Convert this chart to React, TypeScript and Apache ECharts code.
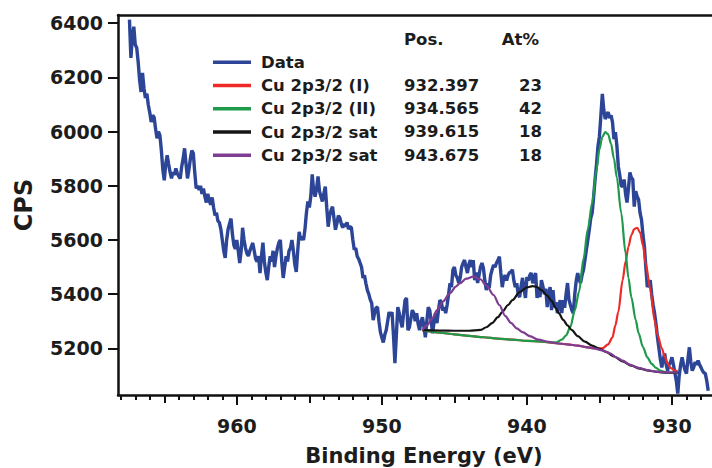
import React, { useEffect, useRef } from 'react';
import * as echarts from 'echarts';

// Measured spectrum: [binding energy (eV), CPS]
const spectrum: [number, number][] = [
  [967.4, 6413], [967.3, 6272], [967.2, 6350], [967.1, 6387], [967.0, 6320], [966.9, 6309], [966.8, 6257], [966.7, 6190], [966.6, 6146], [966.5, 6216],
  [966.4, 6160], [966.3, 6124], [966.2, 6140], [966.1, 6098], [966.0, 6070], [965.9, 6035], [965.8, 6060], [965.7, 6053], [965.6, 6010], [965.5, 5975],
  [965.4, 6000], [965.3, 5986], [965.2, 5930], [965.1, 5860], [965.0, 5820], [964.9, 5880], [964.8, 5912], [964.7, 5880], [964.6, 5850], [964.5, 5827],
  [964.4, 5850], [964.3, 5840], [964.2, 5864], [964.1, 5845], [964.0, 5835], [963.9, 5827], [963.8, 5870], [963.7, 5900], [963.6, 5938], [963.5, 5880],
  [963.4, 5827], [963.3, 5860], [963.2, 5900], [963.1, 5930], [963.0, 5920], [962.9, 5850], [962.8, 5790], [962.7, 5800], [962.6, 5785], [962.5, 5800],
  [962.4, 5770], [962.3, 5790], [962.2, 5760], [962.1, 5738], [962.0, 5770], [961.9, 5745], [961.8, 5730], [961.7, 5757], [961.6, 5720], [961.5, 5690],
  [961.4, 5700], [961.3, 5670], [961.2, 5664], [961.1, 5640], [961.0, 5600], [960.9, 5560], [960.8, 5534], [960.7, 5600], [960.6, 5640], [960.5, 5660],
  [960.4, 5679], [960.3, 5620], [960.2, 5580], [960.1, 5567], [960.0, 5600], [959.9, 5560], [959.8, 5515], [959.7, 5560], [959.6, 5645], [959.5, 5600],
  [959.4, 5570], [959.3, 5550], [959.2, 5541], [959.1, 5560], [959.0, 5575], [958.9, 5589], [958.8, 5560], [958.7, 5530], [958.6, 5520], [958.5, 5540],
  [958.4, 5478], [958.3, 5540], [958.2, 5590], [958.1, 5520], [958.0, 5480], [957.9, 5452], [957.8, 5500], [957.7, 5540], [957.6, 5520], [957.5, 5560],
  [957.4, 5500], [957.3, 5540], [957.2, 5570], [957.1, 5590], [957.0, 5600], [956.9, 5520], [956.8, 5460], [956.7, 5500], [956.6, 5540], [956.5, 5520],
  [956.4, 5560], [956.3, 5570], [956.2, 5600], [956.1, 5560], [956.0, 5510], [955.9, 5482], [955.8, 5560], [955.7, 5630], [955.6, 5600], [955.5, 5612],
  [955.4, 5600], [955.3, 5640], [955.2, 5700], [955.1, 5742], [955.0, 5720], [954.9, 5760], [954.8, 5842], [954.7, 5780], [954.6, 5760], [954.5, 5790],
  [954.4, 5834], [954.3, 5780], [954.2, 5760], [954.1, 5742], [954.0, 5770], [953.9, 5797], [953.8, 5720], [953.7, 5649], [953.6, 5690], [953.5, 5710],
  [953.4, 5723], [953.3, 5680], [953.2, 5638], [953.1, 5660], [953.0, 5690], [952.9, 5682], [952.8, 5660], [952.7, 5645], [952.6, 5660], [952.5, 5650],
  [952.4, 5665], [952.3, 5640], [952.2, 5650], [952.1, 5645], [952.0, 5600], [951.9, 5564], [951.8, 5570], [951.7, 5540], [951.6, 5530], [951.5, 5515],
  [951.4, 5500], [951.3, 5460], [951.2, 5470], [951.1, 5440], [951.0, 5415], [950.9, 5400], [950.8, 5380], [950.7, 5367], [950.6, 5304], [950.5, 5330],
  [950.4, 5350], [950.3, 5352], [950.2, 5300], [950.1, 5260], [950.0, 5240], [949.9, 5222], [949.8, 5250], [949.7, 5267], [949.6, 5300], [949.5, 5334],
  [949.4, 5320], [949.3, 5334], [949.2, 5250], [949.1, 5145], [949.0, 5250], [948.9, 5352], [948.8, 5330], [948.7, 5300], [948.6, 5278], [948.5, 5330],
  [948.4, 5378], [948.3, 5386], [948.2, 5267], [948.1, 5278], [948.0, 5310], [947.9, 5341], [947.8, 5330], [947.7, 5300], [947.6, 5330], [947.5, 5290],
  [947.4, 5267], [947.3, 5300], [947.2, 5315], [947.1, 5280], [947.0, 5241], [946.9, 5300], [946.8, 5352], [946.7, 5341], [946.6, 5300], [946.5, 5256],
  [946.4, 5300], [946.3, 5330], [946.2, 5293], [946.1, 5340], [946.0, 5378], [945.9, 5371], [945.8, 5340], [945.7, 5352], [945.6, 5330], [945.5, 5360],
  [945.4, 5400], [945.3, 5440], [945.2, 5426], [945.1, 5490], [945.0, 5500], [944.9, 5470], [944.8, 5460], [944.7, 5441], [944.6, 5460], [944.5, 5500],
  [944.4, 5515], [944.3, 5526], [944.2, 5500], [944.1, 5478], [944.0, 5510], [943.9, 5526], [943.8, 5500], [943.7, 5526], [943.6, 5452], [943.5, 5480],
  [943.4, 5441], [943.3, 5470], [943.2, 5500], [943.1, 5515], [943.0, 5497], [942.9, 5450], [942.8, 5415], [942.7, 5440], [942.6, 5423], [942.5, 5470],
  [942.4, 5490], [942.3, 5508], [942.2, 5500], [942.1, 5515], [942.0, 5525], [941.9, 5538], [941.8, 5480], [941.7, 5426], [941.6, 5460], [941.5, 5470],
  [941.4, 5450], [941.3, 5470], [941.2, 5480], [941.1, 5482], [941.0, 5490], [940.9, 5450], [940.8, 5426], [940.7, 5440], [940.6, 5400], [940.5, 5389],
  [940.4, 5430], [940.3, 5460], [940.2, 5420], [940.1, 5386], [940.0, 5463], [939.9, 5450], [939.8, 5470], [939.7, 5478], [939.6, 5440], [939.5, 5460],
  [939.4, 5478], [939.3, 5386], [939.2, 5420], [939.1, 5389], [939.0, 5452], [938.9, 5430], [938.8, 5400], [938.7, 5420], [938.6, 5352], [938.5, 5400],
  [938.4, 5426], [938.3, 5341], [938.2, 5415], [938.1, 5352], [938.0, 5370], [937.9, 5330], [937.8, 5360], [937.7, 5378], [937.6, 5330], [937.5, 5378],
  [937.4, 5350], [937.3, 5400], [937.2, 5441], [937.1, 5380], [937.0, 5360], [936.9, 5341], [936.8, 5330], [936.7, 5400], [936.6, 5450], [936.5, 5478],
  [936.4, 5452], [936.3, 5441], [936.2, 5470], [936.1, 5490], [936.0, 5526], [935.9, 5564], [935.8, 5600], [935.7, 5638], [935.6, 5680], [935.5, 5700],
  [935.4, 5760], [935.3, 5823], [935.2, 5880], [935.1, 5946], [935.0, 5983], [934.9, 6060], [934.8, 6139], [934.7, 6080], [934.6, 6046], [934.5, 6060],
  [934.4, 6072], [934.3, 6050], [934.2, 6060], [934.1, 6035], [934.0, 5972], [933.9, 5998], [933.8, 5950], [933.7, 5872], [933.6, 5840], [933.5, 5800],
  [933.4, 5797], [933.3, 5823], [933.2, 5770], [933.1, 5738], [933.0, 5790], [932.9, 5849], [932.8, 5830], [932.7, 5823], [932.6, 5723], [932.5, 5780],
  [932.4, 5760], [932.3, 5749], [932.2, 5700], [932.1, 5675], [932.0, 5620], [931.9, 5575], [931.8, 5500], [931.7, 5426], [931.6, 5440], [931.5, 5452],
  [931.4, 5400], [931.3, 5360], [931.2, 5330], [931.1, 5290], [931.0, 5241], [930.9, 5200], [930.8, 5160], [930.7, 5130], [930.6, 5160], [930.5, 5181],
  [930.4, 5140], [930.3, 5118], [930.2, 5140], [930.1, 5150], [930.0, 5167], [929.9, 5140], [929.8, 5110], [929.7, 5080], [929.6, 5033], [929.5, 5100],
  [929.4, 5140], [929.3, 5167], [929.2, 5140], [929.1, 5120], [929.0, 5107], [928.9, 5160], [928.8, 5204], [928.7, 5150], [928.6, 5118], [928.5, 5130],
  [928.4, 5150], [928.3, 5140], [928.2, 5155], [928.1, 5140], [928.0, 5130], [927.9, 5118], [927.8, 5110], [927.7, 5107], [927.6, 5080], [927.5, 5044],
];

// Fitted envelopes
const fitCuI: [number, number][] = [
  [947.2, 5267], [946, 5258], [945, 5252], [944, 5246], [943, 5241], [942, 5236], [941, 5232], [940, 5228], [939, 5225], [938, 5219],
  [937.2, 5215], [936.5, 5210], [935.8, 5204], [935.2, 5200], [934.8, 5200], [934.4, 5215], [934.1, 5241], [933.9, 5285], [933.7, 5335],
  [933.4, 5452], [933.2, 5520], [933.0, 5575], [932.8, 5618], [932.6, 5640], [932.4, 5645], [932.2, 5628], [932.0, 5580], [931.8, 5510],
  [931.5, 5420], [931.2, 5304], [931.0, 5250], [930.7, 5200], [930.5, 5170], [930.3, 5145], [930.1, 5128], [929.8, 5118], [929.6, 5115],
];
const fitCuII: [number, number][] = [
  [947.2, 5267], [946, 5258], [945, 5252], [944, 5246], [943, 5241], [942, 5236], [941, 5232], [940, 5228], [939, 5225], [938.4, 5222],
  [938, 5222], [937.6, 5232], [937.3, 5248], [937.0, 5280], [936.7, 5340], [936.4, 5410], [936.1, 5530], [935.8, 5640], [935.5, 5738],
  [935.2, 5860], [935.0, 5935], [934.8, 5980], [934.6, 5998], [934.4, 5990], [934.2, 5955], [934.0, 5900], [933.8, 5830], [933.5, 5700],
  [933.2, 5552], [933.0, 5460], [932.8, 5389], [932.5, 5305], [932.3, 5256], [932.0, 5205], [931.7, 5167], [931.4, 5143], [931.1, 5128],
  [930.8, 5118], [930.5, 5113], [930.2, 5111], [929.6, 5110],
];
const fitSat939: [number, number][] = [
  [947.2, 5267], [946, 5266], [945, 5265], [944, 5265], [943.2, 5268], [942.8, 5278], [942.4, 5293], [942.0, 5315], [941.7, 5334],
  [941.3, 5360], [941.0, 5378], [940.5, 5408], [940.0, 5425], [939.6, 5430], [939.3, 5426], [939.0, 5415], [938.6, 5395], [938.3, 5375],
  [938.0, 5348], [937.8, 5330], [937.5, 5305], [937.2, 5285], [936.9, 5267], [936.5, 5245], [936.0, 5225], [935.5, 5210], [935.0, 5198],
  [934.5, 5186], [934.0, 5170], [933.4, 5152], [932.8, 5136], [932.2, 5125], [931.6, 5118], [931.0, 5113], [930.4, 5110], [929.6, 5110],
];
const fitSat943: [number, number][] = [
  [947.2, 5267], [946.9, 5285], [946.5, 5312], [946.2, 5341], [945.8, 5372], [945.3, 5404], [944.9, 5428], [944.6, 5441], [944.2, 5457],
  [943.7, 5465], [943.2, 5455], [942.8, 5432], [942.3, 5397], [941.9, 5360], [941.5, 5320], [941.1, 5294], [940.7, 5274], [940.3, 5260],
  [939.8, 5245], [939.2, 5232], [938.5, 5224], [938.0, 5219], [937.2, 5215], [936.5, 5210], [935.8, 5204], [935.4, 5200], [934.8, 5193],
  [934.3, 5182], [933.8, 5166], [933.4, 5155], [932.9, 5140], [932.3, 5128], [931.7, 5120], [931.2, 5115], [930.6, 5112], [930.0, 5111],
  [929.6, 5111],
];

const seriesKeys = ['Data', 'CuI', 'CuII', 'Sat939', 'Sat943'];
const seriesLabels = ['Data', 'Cu 2p3/2 (I)', 'Cu 2p3/2 (II)', 'Cu 2p3/2 sat', 'Cu 2p3/2 sat'];
const seriesColors = ['#2c4596', '#ee2a26', '#1f9a4b', '#151515', '#7f3d91'];
const peakPositions = ['932.397', '934.565', '939.615', '943.675'];
const atomicPercents = ['23', '42', '18', '18'];

const yTicks = [5200, 5400, 5600, 5800, 6000, 6200, 6400];
const xMajorTicks = [930, 940, 950, 960];
const xMidTicks = [935, 945, 955, 965];
const xMinorTicks = [928, 929, 931, 932, 933, 934, 936, 937, 938, 939, 941, 942, 943, 944, 946, 947, 948, 949,
  951, 952, 953, 954, 956, 957, 958, 959, 961, 962, 963, 964, 966, 967, 968];

const FONT = '"DejaVu Sans", "Liberation Sans", sans-serif';
const TEXT = '#1c1c1c';

export default function App() {
  const ref = useRef<HTMLDivElement>(null);
  useEffect(() => {
    document.body.style.margin = '0';
    if (!ref.current) return;
    const chart = echarts.init(ref.current, undefined, { renderer: 'svg' });
    const xMin = 927.24;
    const xMax = 968.19;
    const baseX = { type: 'value', min: xMin, max: xMax, inverse: true, splitLine: { show: false } };
    const labelOf: Record<string, string> = {};
    seriesKeys.forEach((k, i) => { labelOf[k] = seriesLabels[i]; });
    const fits = [fitCuI, fitCuII, fitSat939, fitSat943];
    const plain = (v: number) => String(v);

    const tableTexts: any[] = [
      { type: 'text', x: 404, y: 39, style: { text: 'Pos.', fontFamily: FONT, fontWeight: 'bold', fontSize: 16.5, fill: TEXT, align: 'left', verticalAlign: 'middle' } },
      { type: 'text', x: 539, y: 39, style: { text: 'At%', fontFamily: FONT, fontWeight: 'bold', fontSize: 16.5, fill: TEXT, align: 'right', verticalAlign: 'middle' } },
    ];
    peakPositions.forEach((p, i) => {
      const y = 85.2 + i * 23.3;
      tableTexts.push({ type: 'text', x: 404, y, style: { text: p, fontFamily: FONT, fontWeight: 'bold', fontSize: 16.5, fill: TEXT, align: 'left', verticalAlign: 'middle' } });
      tableTexts.push({ type: 'text', x: 542, y, style: { text: atomicPercents[i], fontFamily: FONT, fontWeight: 'bold', fontSize: 16.5, fill: TEXT, align: 'right', verticalAlign: 'middle' } });
    });

    chart.setOption({
      animation: false,
      backgroundColor: '#ffffff',
      grid: { left: 118, right: 0, top: 15, bottom: 73, containLabel: false, outerBoundsMode: 'none' },
      legend: {
        orient: 'vertical', left: 213, top: 50.5, padding: 0, itemGap: 0,
        itemWidth: 38, itemHeight: 3.5, icon: 'rect', selectedMode: false,
        data: seriesKeys,
        formatter: (n: string) => labelOf[n],
        textStyle: { fontFamily: FONT, fontWeight: 'bold', fontSize: 16.5, color: TEXT, lineHeight: 23.3, padding: [0, 0, 0, 5] },
      },
      xAxis: [
        {
          ...baseX, position: 'bottom',
          axisLine: { show: true, lineStyle: { color: '#111', width: 2.5 } },
          axisTick: { show: true, length: 5, customValues: xMinorTicks, lineStyle: { color: '#111', width: 2 } },
          axisLabel: { show: false },
          name: 'Binding Energy (eV)', nameLocation: 'middle', nameGap: 50,
          nameTextStyle: { fontFamily: FONT, fontWeight: 'bold', fontSize: 21, color: TEXT, padding: [0, 0, 0, 18] },
        },
        {
          ...baseX, position: 'bottom',
          axisLine: { show: false },
          axisTick: { show: true, length: 8, customValues: xMidTicks, lineStyle: { color: '#111', width: 2 } },
          axisLabel: { show: false },
        },
        {
          ...baseX, position: 'bottom',
          axisLine: { show: false },
          axisTick: { show: true, length: 10, customValues: xMajorTicks, lineStyle: { color: '#111', width: 2 } },
          axisLabel: { show: true, customValues: xMajorTicks, formatter: plain, margin: 21, fontFamily: FONT, fontWeight: 'bold', fontSize: 19, color: TEXT },
        },
        {
          ...baseX, position: 'top',
          axisLine: { show: true, lineStyle: { color: '#111', width: 2.5 } },
          axisTick: { show: false }, axisLabel: { show: false },
        },
      ],
      yAxis: {
        type: 'value', min: 5028, max: 6430, position: 'left',
        splitLine: { show: false },
        axisLine: { show: true, lineStyle: { color: '#111', width: 2.5 } },
        axisTick: { show: true, length: 10, customValues: yTicks, lineStyle: { color: '#111', width: 2 } },
        axisLabel: { show: true, customValues: yTicks, formatter: plain, margin: 15, fontFamily: FONT, fontWeight: 'bold', fontSize: 19, color: TEXT },
        name: 'CPS', nameLocation: 'middle', nameGap: 82, nameRotate: 90,
        nameTextStyle: { fontFamily: FONT, fontWeight: 'bold', fontSize: 24, color: TEXT },
      },
      series: [
        {
          name: seriesKeys[0], type: 'line', xAxisIndex: 0, data: spectrum, showSymbol: false, symbol: 'none',
          color: seriesColors[0], lineStyle: { color: seriesColors[0], width: 3.4 }, z: 2,
        },
        ...fits.map((d, i) => ({
          name: seriesKeys[i + 1], type: 'line', xAxisIndex: 0, data: d, showSymbol: false, symbol: 'none',
          smooth: 0.3, smoothMonotone: 'x',
          color: seriesColors[i + 1], lineStyle: { color: seriesColors[i + 1], width: 2.2 }, z: 3,
        })),
      ],
      graphic: tableTexts,
    });
    return () => chart.dispose();
  }, []);
  return <div ref={ref} style={{ width: 712, height: 468 }} />;
}
